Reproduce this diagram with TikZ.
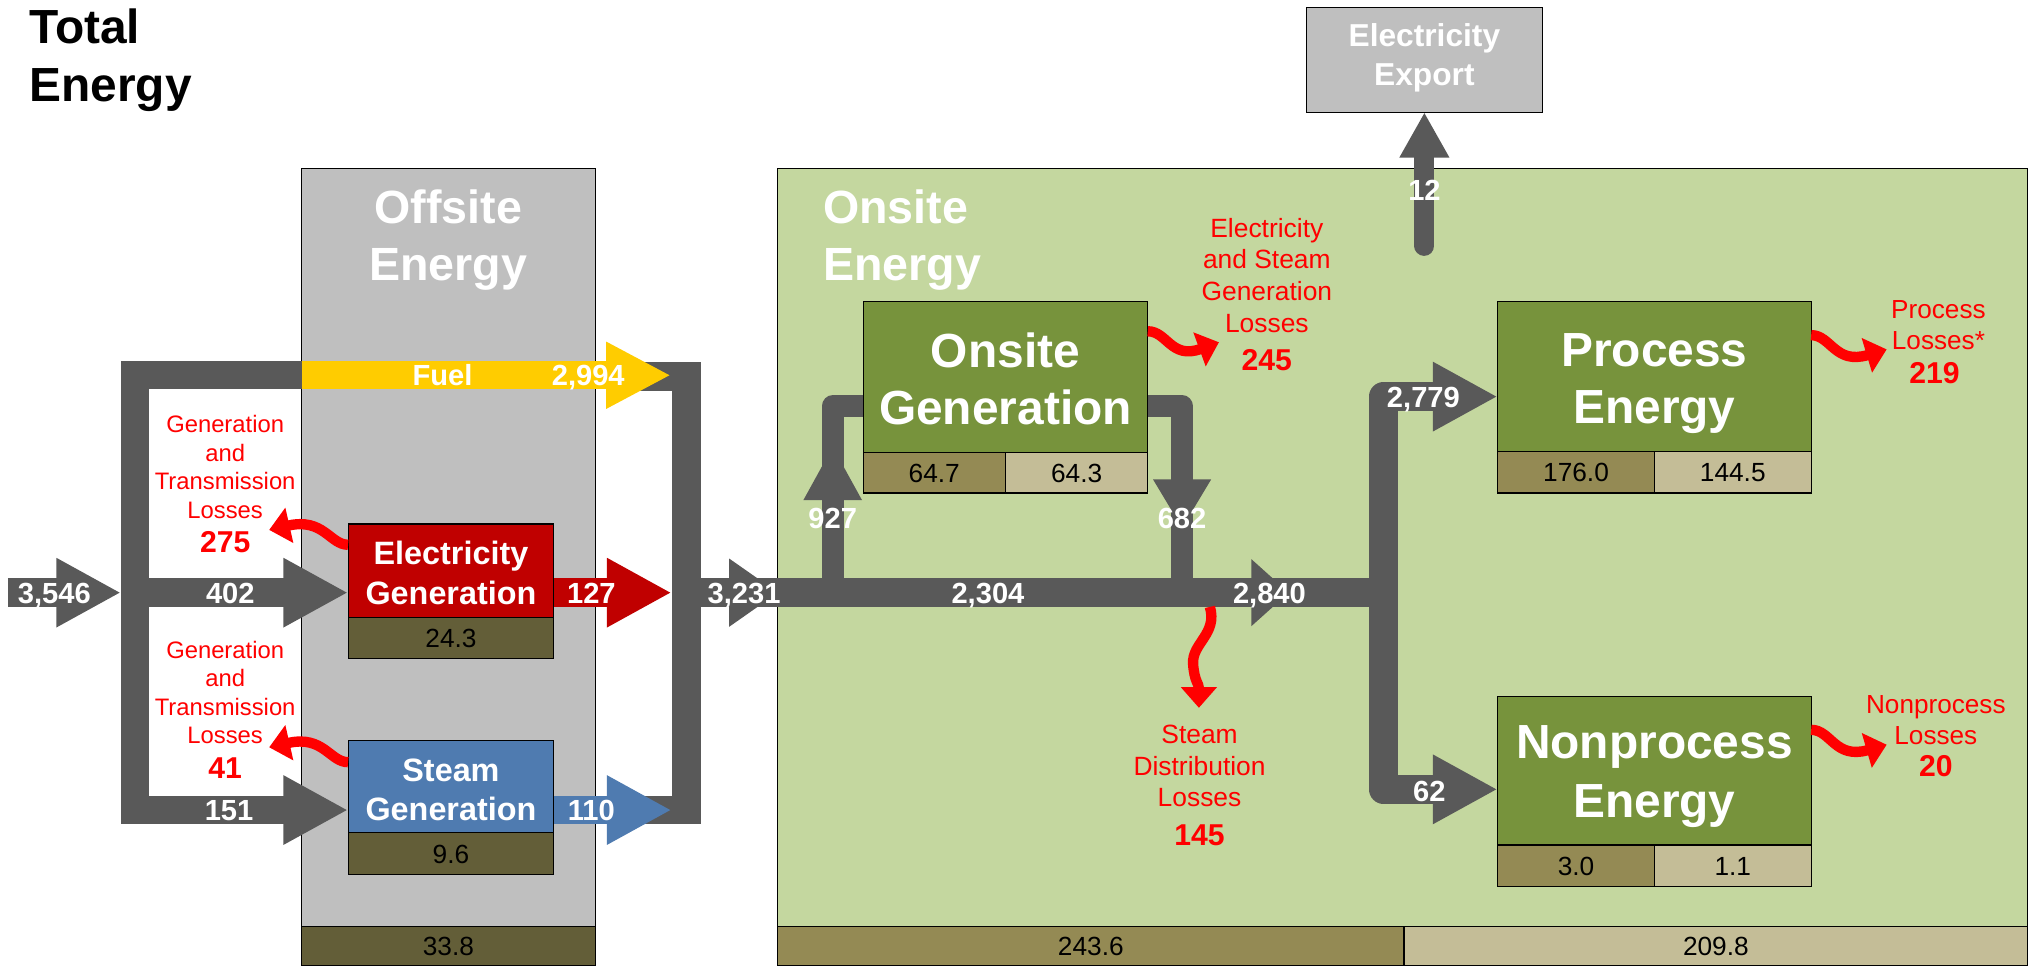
\documentclass[tikz,border=0pt]{standalone}
\usepackage{fontspec}
\setmainfont{Liberation Sans}
\usetikzlibrary{arrows.meta,positioning}

\definecolor{flowgray}{HTML}{595959}
\definecolor{offgray}{HTML}{BFBFBF}
\definecolor{onsitegreen}{HTML}{C4D79F}
\definecolor{boxgreen}{HTML}{77933C}
\definecolor{tandark}{HTML}{948A54}
\definecolor{tanlight}{HTML}{C4BD97}
\definecolor{olivedark}{HTML}{635E38}
\definecolor{elecred}{HTML}{C00000}
\definecolor{steamblue}{HTML}{4F7BB0}
\definecolor{fuelyellow}{HTML}{FFCC00}
\definecolor{lossred}{HTML}{FF0000}

\newcommand{\fsz}[2]{\fontsize{#1}{#2}\selectfont}

\tikzset{
  flow/.style={draw=flowgray, line width=22pt},
  pipe/.style={draw=flowgray, line width=17pt},
  bighead/.style={-{Triangle[length=50pt,width=50pt]}},
  loss/.style={draw=lossred, line width=8pt, -{Triangle[length=16pt,width=27pt]}},
  unitbox/.style={draw=black, line width=0.9pt, outer sep=0pt},
  cell/.style={unitbox, font=\fsz{20.3}{24}, text height=14.5pt, text depth=0pt},
  boxlabel/.style={text=white, align=center, anchor=base},
  flownum/.style={text=white, font=\bfseries\fsz{22.5}{27}, text height=16.1pt, text depth=0pt},
  losstext/.style={text=lossred, align=center, anchor=base},
  lossnum/.style={text=lossred, font=\bfseries\fsz{23.3}{28}, text height=16.7pt, text depth=0pt},
  areatitle/.style={text=white, font=\bfseries\fsz{36}{44}},
}

\begin{document}
\begin{tikzpicture}[x=1pt,y=1pt]
\tikzstyle{every node}+=[inner sep=0pt]
\useasboundingbox (0,0) rectangle (1568,-746);

% multi-line texts are placed by the baseline of their last line
\node[anchor=base west, align=left, font=\bfseries\fsz{37}{45}] at (22.5,-78.5) {Total\\Energy};

% offsite and onsite areas
\draw[fill=offgray, line width=0.9pt] (233,-130) rectangle (460,-746);
\draw[fill=olivedark, line width=0.9pt] (233,-716) rectangle (460,-746);
\node[cell, draw=none] at (346.5,-731) {33.8};
\node[areatitle, align=center, anchor=base] at (346.5,-216.5) {Offsite\\Energy};
\draw[fill=onsitegreen, line width=0.9pt] (601,-130) rectangle (1567,-746);
\draw[fill=tandark, line width=0.9pt] (601,-716) rectangle (1085,-746);
\draw[fill=tanlight, line width=0.9pt] (1085,-716) rectangle (1567,-746);
\node[cell, draw=none] at (843,-731) {243.6};
\node[cell, draw=none] at (1326,-731) {209.8};
\node[areatitle, align=left, anchor=base west] at (636,-217) {Onsite\\Energy};

% boxes
\node[unitbox, fill=offgray, minimum width=182.5pt, minimum height=81pt] (export) at (1100.75,-46.25) {};
\node[unitbox, fill=elecred, minimum width=159pt, minimum height=72pt] (elec) at (348.5,-441) {};
\node[cell, fill=olivedark, minimum width=159pt, minimum height=32pt, below=0pt of elec] (elecsub) {24.3};
\node[unitbox, fill=steamblue, minimum width=159pt, minimum height=71.5pt] (steam) at (348.5,-607.75) {};
\node[cell, fill=olivedark, minimum width=159pt, minimum height=32.5pt, below=0pt of steam] (steamsub) {9.6};
\node[unitbox, fill=boxgreen, minimum width=220pt, minimum height=116.6pt] (onsgen) at (777,-291.3) {};
\node[cell, fill=tandark, minimum width=110pt, minimum height=31.4pt, anchor=north west] (onsgenl) at (onsgen.south west) {64.7};
\node[cell, fill=tanlight, minimum width=110pt, minimum height=31.4pt, anchor=north east] (onsgenr) at (onsgen.south east) {64.3};
\node[unitbox, fill=boxgreen, minimum width=242.3pt, minimum height=116pt] (proc) at (1278.5,-291) {};
\node[cell, fill=tandark, minimum width=121.15pt, minimum height=32pt, anchor=north west] (procl) at (proc.south west) {176.0};
\node[cell, fill=tanlight, minimum width=121.15pt, minimum height=32pt, anchor=north east] (procr) at (proc.south east) {144.5};
\node[unitbox, fill=boxgreen, minimum width=242.3pt, minimum height=115pt] (nonproc) at (1278.5,-595.5) {};
\node[cell, fill=tandark, minimum width=121.15pt, minimum height=32pt, anchor=north west] (nonprocl) at (nonproc.south west) {3.0};
\node[cell, fill=tanlight, minimum width=121.15pt, minimum height=32pt, anchor=north east] (nonprocr) at (nonproc.south east) {1.1};

\node[boxlabel, font=\bfseries\fsz{24.5}{29.7}] at (1100.75,-65.7) {Electricity\\Export};
\node[boxlabel, font=\bfseries\fsz{25}{31}] at (348.5,-467) {Electricity\\Generation};
\node[boxlabel, font=\bfseries\fsz{25}{30}] at (348.5,-634) {Steam\\Generation};
\node[boxlabel, font=\bfseries\fsz{37}{44}] at (777,-328) {Onsite\\Generation};
\node[boxlabel, font=\bfseries\fsz{37}{44}] at (1278.5,-327) {Process\\Energy};
\node[boxlabel, font=\bfseries\fsz{37}{46}] at (1278.5,-632) {Nonprocess\\Energy};

% flows
\coordinate (src) at (6,-458);
\coordinate (fuelin) at (233,-290);
\draw[flow] (490,-291) -| (530.5,-626) -- (490,-626);
\draw[flow] (530.5,-458) -- (1069,-458);
\draw[flow, bighead] (src) -- (93.5,-458);
\draw[flow, bighead] (fuelin) -| (104.5,-626) -- (steam.west |- 0,-626);
\draw[flow, bighead] (104.5,-458) -- (elec.west |- 0,-458);
\draw[flow, draw=fuelyellow, -{Triangle[length=50pt,width=48pt]}] (fuelin) -- (518.5,-290);
\draw[flow, draw=elecred, bighead] (elec.east |- 0,-458) -- (519,-458);
\draw[flow, draw=steamblue, bighead] (steam.east |- 0,-626) -- (519,-626);
\draw[flow, -{Triangle[length=38pt,width=50pt]}] (560,-458) -- (601.5,-458);
\draw[flow, -{Triangle[length=29pt,width=50pt]}] (960,-458) -- (996,-458);
\draw[flow, line join=round, {Triangle[length=50pt,width=50pt]}-{Triangle[length=50pt,width=50pt]}] (proc.west |- 0,-306.5) -| (1069,-610) -- (nonproc.west |- 0,-610);
\draw[flow, line width=15.5pt, line cap=round, -{Triangle[length=35pt,width=36pt]}] (1100.75,-190) -- (export.south);
\draw[pipe, line join=round] (643.5,-458) |- (onsgen.west |- 0,-314);
\draw[pipe, -{Triangle[length=42pt,width=42pt]}] (643.5,-390) -- (643.5,-344.5);
\draw[pipe, line join=round] (onsgen.east |- 0,-314) -| (913.5,-458);
\draw[pipe, -{Triangle[length=38pt,width=42pt]}] (913.5,-366) -- (913.5,-408.5);

% losses
\draw[loss] (elec.west |- 0,-421) .. controls (255,-421) and (250,-400) .. (208,-409.5);
\draw[loss] (steam.west |- 0,-589) .. controls (255,-589) and (250,-568) .. (208,-577.5);
\draw[loss] (onsgen.east |- 0,-256) .. controls (902,-256) and (905,-278) .. (942,-264.5);
\draw[loss] (proc.east |- 0,-259) .. controls (1415,-259) and (1418,-282) .. (1458,-270);
\draw[loss] (nonproc.east |- 0,-564) .. controls (1415,-564) and (1418,-587) .. (1458,-575.5);
\draw[loss] (935,-469) .. controls (941,-490) and (921,-497) .. (922,-513) .. controls (923,-527) and (926.5,-528) .. (926.5,-547);

% labels
\node[flownum] at (42,-458) {3,546};
\node[flownum] at (178,-458) {402};
\node[flownum] at (177,-626) {151};
\node[flownum] at (342,-290) {Fuel};
\node[flownum] at (454.6,-290) {2,994};
\node[flownum] at (457,-458) {127};
\node[flownum] at (457,-626) {110};
\node[flownum] at (575,-458) {3,231};
\node[flownum] at (643.5,-400.6) {927};
\node[flownum] at (913.5,-400.6) {682};
\node[flownum] at (763.5,-458) {2,304};
\node[flownum] at (981,-458) {2,840};
\node[flownum] at (1100,-307) {2,779};
\node[flownum] at (1104.6,-611) {62};
\node[flownum] at (1100.8,-147) {12};

\node[losstext, font=\fsz{18.4}{22}] at (174,-400.6) {Generation\\and\\Transmission\\Losses};
\node[lossnum] at (174,-419) {275};
\node[losstext, font=\fsz{18.4}{22}] at (174,-574.6) {Generation\\and\\Transmission\\Losses};
\node[lossnum] at (174,-593.5) {41};
\node[losstext, font=\fsz{20.4}{24.5}] at (979,-256.8) {Electricity\\and Steam\\Generation\\Losses};
\node[lossnum] at (979,-278) {245};
\node[losstext, font=\fsz{20.2}{24.3}] at (1498,-270.3) {Process\\Losses*};
\node[lossnum] at (1495,-288) {219};
\node[losstext, font=\fsz{20.2}{24.5}] at (1496,-575.5) {Nonprocess\\Losses};
\node[lossnum] at (1496,-591.4) {20};
\node[losstext, font=\fsz{20.4}{24.5}] at (927,-623.5) {Steam\\Distribution\\Losses};
\node[lossnum] at (927,-645.3) {145};
\end{tikzpicture}
\end{document}
